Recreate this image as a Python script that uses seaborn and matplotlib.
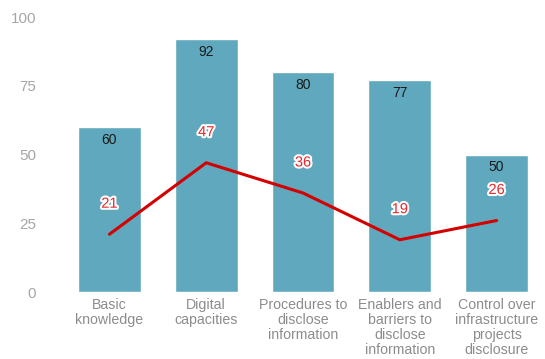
import matplotlib
matplotlib.use("Agg")
import matplotlib.pyplot as plt
import matplotlib.patheffects as pe
import numpy as np
import pandas as pd
import seaborn as sns

categories = [
    "Basic\nknowledge",
    "Digital\ncapacities",
    "Procedures to\ndisclose\ninformation",
    "Enablers and\nbarriers to\ndisclose\ninformation",
    "Control over\ninfrastructure\nprojects\ndisclosure",
]
bar_values = [60, 92, 80, 77, 50]
line_values = [21, 47, 36, 19, 26]
y_ticks = [0, 25, 50, 75, 100]

sns.set_theme(style="white")
plt.rcParams["font.family"] = ["Liberation Sans", "DejaVu Sans"]

df = pd.DataFrame({"category": categories, "value": bar_values})

fig = plt.figure(figsize=(5.45, 3.59), dpi=100)
ax = fig.add_axes([0.112, 0.1866, 0.888, 0.766])

sns.barplot(data=df, x="category", y="value", color="#5fa8bd",
            saturation=1, width=0.65, ax=ax)

x = np.arange(len(categories))
ax.plot(x, line_values, color="#d40000", lw=2.2, zorder=3)

for xi, v in zip(x, bar_values):
    ax.annotate(f"{v}", (xi, v), xytext=(0, -9), textcoords="offset points",
                ha="center", va="center", fontsize=10, color="#1a1a1a")

for xi, v in zip(x, line_values):
    ax.annotate(f"{v}", (xi, v), xytext=(0, 22), textcoords="offset points",
                ha="center", va="center", fontsize=10.5, color="#e8262b",
                zorder=4,
                path_effects=[pe.withStroke(linewidth=3, foreground="white")])

ax.set_ylim(0, 100)
ax.set_xlim(-0.5, len(categories) - 0.5)
ax.set_yticks(y_ticks)
ax.set_xlabel("")
ax.set_ylabel("")
ax.tick_params(axis="y", labelsize=11, labelcolor="#a6a6a6", length=0, pad=18)
ax.tick_params(axis="x", labelsize=10.2, labelcolor="#8c8c8c", length=0, pad=4)
for lbl in ax.get_xticklabels():
    lbl.set_linespacing(1.1)
sns.despine(ax=ax, left=True, bottom=True)

fig.savefig("out.png", dpi=100)
